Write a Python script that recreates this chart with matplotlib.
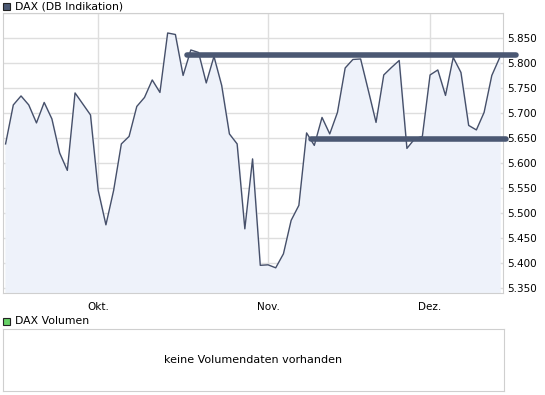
import matplotlib
matplotlib.use("Agg")
import matplotlib.pyplot as plt
from matplotlib.patches import Rectangle
from matplotlib.ticker import FuncFormatter

# Daten (DAX Schlusskurse, Handelstage 15.09.2009 - 14.12.2009)
dax = [5638, 5716, 5734, 5716, 5680, 5721, 5688, 5620, 5585, 5740,
       5718, 5696, 5545, 5476, 5545, 5638, 5653, 5713, 5731, 5766,
       5741, 5860, 5857, 5775, 5826, 5821, 5760, 5813, 5755, 5658,
       5638, 5468, 5608, 5395, 5396, 5390, 5418, 5485, 5515, 5660,
       5635, 5691, 5658, 5701, 5790, 5807, 5808, 5745, 5681, 5776,
       5791, 5805, 5629, 5648, 5653, 5776, 5786, 5735, 5811, 5781,
       5675, 5666, 5701, 5775, 5810]
monate = ["Okt.", "Nov.", "Dez."]
monat_idx = [12, 34, 55]          # erster Handelstag im Monat
y_ticks = [5350, 5400, 5450, 5500, 5550, 5600, 5650, 5700, 5750, 5800, 5850]

# Widerstand / Unterstuetzung (Wert, von Index, bis Index)
linien = [(5815, 23.5, 66.1), (5647, 39.6, 64.8)]

W, H = 545, 395
fig = plt.figure(figsize=(W / 100, H / 100), dpi=100)

def box(x0, y0, x1, y1):
    # Pixelkoordinaten (oben links) -> figure-Bruchteile
    return [x0 / W, 1 - y1 / H, (x1 - x0) / W, (y1 - y0) / H]

grau = "#cfcfcf"
linie = "#46506a"

# --- Kurschart ---
ax = fig.add_axes(box(2.5, 13, 503, 293.3))
x = list(range(len(dax)))
ax.fill_between(x, dax, 5300, color="#eef2fa", zorder=1)
ax.plot(x, dax, color=linie, lw=1, zorder=3)
for wert, von, bis in linien:
    ax.plot([von, bis], [wert, wert], color="#4b5873", lw=4,
            solid_capstyle="round", clip_on=False, zorder=4)

ax.set_xlim(-0.4, 64.45)
ax.set_ylim(5339, 5900)
ax.set_xticks(monat_idx)
ax.set_xticklabels(monate)
ax.set_yticks(y_ticks + [5900])
ax.yaxis.set_major_formatter(FuncFormatter(
    lambda v, p: "" if v >= 5900 else f"{int(v):,}".replace(",", ".")))
ax.yaxis.tick_right()
ax.tick_params(axis="both", length=0, labelsize=7.5, colors="black")
ax.tick_params(axis="y", pad=3)
ax.tick_params(axis="x", pad=6)
ax.grid(True, color="#dedede", lw=1, zorder=0)
ax.set_axisbelow(True)
for s in ax.spines.values():
    s.set_color(grau)

# --- Volumen ---
ax2 = fig.add_axes(box(2.5, 329, 504, 391))
ax2.set_xticks([])
ax2.set_yticks([])
for s in ax2.spines.values():
    s.set_color(grau)
ax2.text(0.5, 0.5, "keine Volumendaten vorhanden", ha="center", va="center",
         fontsize=8, transform=ax2.transAxes)

# --- Legenden ---
def legende(y, farbe, text):
    fig.patches.append(Rectangle((3 / W, 1 - (y + 3.5) / H), 7 / W, 7 / H,
                                 facecolor=farbe, edgecolor="#222222", lw=0.8,
                                 transform=fig.transFigure))
    fig.text(15 / W, 1 - y / H, text, fontsize=7.8, va="center", ha="left")

legende(6.5, "#4b5873", "DAX (DB Indikation)")
legende(321, "#66d166", "DAX Volumen")

fig.savefig("out.png", dpi=100)
